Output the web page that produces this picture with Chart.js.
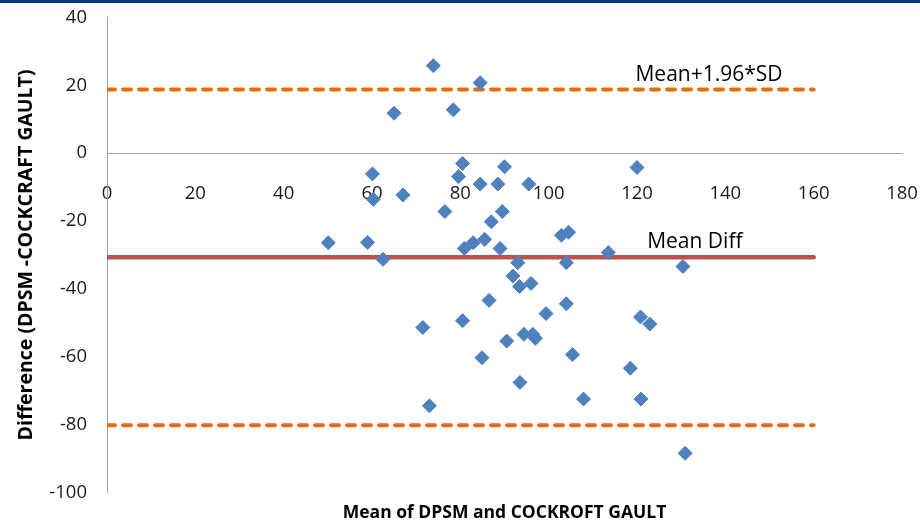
<!DOCTYPE html>
<html><head><meta charset="utf-8">
<script src="https://cdn.jsdelivr.net/npm/chart.js@4.4.0/dist/chart.umd.min.js"></script>
<style>
html,body{margin:0;padding:0;background:#fff;}
#wrap{position:relative;width:920px;height:524px;overflow:hidden;}
#bar{position:absolute;left:0;top:0;width:920px;height:3px;background:#0d3a7d;}
canvas{display:block;}
</style></head><body>
<div id="wrap"><canvas id="c" width="920" height="524"></canvas><div id="bar"></div></div>
<script>
// Bland-Altman data: mean of the two methods (x) and their difference (y)
const meanValues = [73.9, 84.5, 65.0, 78.4, 80.5, 79.6, 90.0, 120.0, 60.1, 60.3,
  67.0, 84.5, 88.5, 95.5, 76.5, 89.5, 87.0, 50.1, 59.0, 62.5,
  80.9, 82.9, 85.5, 89.0, 102.9, 104.5, 113.5, 93.0, 104.0, 130.4,
  91.9, 93.4, 96.0, 86.5, 104.0, 99.4, 71.5, 80.5, 120.8, 122.9,
  90.5, 94.4, 96.4, 97.0, 84.9, 105.4, 118.5, 93.5, 73.0, 107.9,
  120.9, 130.9];
const diffValues = [25.8, 20.8, 11.8, 12.8, -3.0, -6.9, -4.0, -4.2, -6.1, -13.6,
  -12.3, -9.1, -9.1, -9.1, -17.2, -17.2, -20.2, -26.4, -26.3, -31.3,
  -28.1, -26.4, -25.4, -28.1, -24.2, -23.3, -29.3, -32.3, -32.3, -33.4,
  -36.2, -39.3, -38.4, -43.4, -44.4, -47.3, -51.4, -49.4, -48.3, -50.4,
  -55.4, -53.4, -53.4, -54.6, -60.3, -59.4, -63.4, -67.6, -74.5, -72.5,
  -72.5, -88.5];
const meanDiff = -30.7;
const upperLimit = 18.8;
const lowerLimit = -80.2;
const lineSpan = [0, 160];
const xRange = [0, 180];
const yRange = [-100, 40];
const tickStep = 20;
const upperLabel = 'Mean+1.96*SD';
const meanLabel = 'Mean Diff';
const xTitle = 'Mean of DPSM and COCKROFT GAULT';
const yTitle = 'Difference (DPSM -COCKCRAFT GAULT)';

const FONT = '"Open Sans", "Liberation Sans", sans-serif';
const points = meanValues.map((v, i) => ({x: v, y: diffValues[i]}));
const hLine = v => lineSpan.map(x => ({x, y: v}));

const labelPlugin = {
  id: 'loaLabels',
  afterDatasetsDraw(chart) {
    const {ctx, scales: {x, y}} = chart;
    ctx.save();
    ctx.font = '21px ' + FONT;
    ctx.fillStyle = '#000';
    ctx.textAlign = 'center';
    ctx.textBaseline = 'alphabetic';
    ctx.fillText(upperLabel, x.getPixelForValue(136.3), y.getPixelForValue(upperLimit) - 8);
    ctx.fillText(meanLabel, x.getPixelForValue(133.1), y.getPixelForValue(meanDiff) - 9);
    ctx.restore();
  }
};

const axisGray = '#a0a0a0';
const tickFont = {family: FONT, size: 18.5};

new Chart(document.getElementById('c'), {
  type: 'scatter',
  data: {
    datasets: [
      {
        label: 'Difference',
        data: points,
        xAxisID: 'x', yAxisID: 'y',
        pointStyle: 'rectRot',
        pointRadius: 7,
        pointBackgroundColor: '#4f81bd',
        pointBorderColor: '#4f81bd',
        pointBorderWidth: 1,
        order: 0
      },
      {
        type: 'line', label: 'Mean Diff', data: hLine(meanDiff),
        xAxisID: 'x', yAxisID: 'y',
        borderColor: '#c0504d', borderWidth: 4.5, borderCapStyle: 'round',
        pointRadius: 0, fill: false, order: 1
      },
      {
        type: 'line', label: 'Upper', data: hLine(upperLimit),
        xAxisID: 'x', yAxisID: 'y',
        borderColor: '#e46c0a', borderWidth: 4, borderDash: [8, 8], borderCapStyle: 'round',
        pointRadius: 0, fill: false, order: 1
      },
      {
        type: 'line', label: 'Lower', data: hLine(lowerLimit),
        xAxisID: 'x', yAxisID: 'y',
        borderColor: '#e46c0a', borderWidth: 4, borderDash: [8, 8], borderCapStyle: 'round',
        pointRadius: 0, fill: false, order: 1
      }
    ]
  },
  options: {
    responsive: false,
    animation: false,
    events: [],
    layout: {padding: {top: 17.6, right: 18, bottom: 0, left: 0}},
    plugins: {legend: {display: false}, tooltip: {enabled: false}},
    scales: {
      x: {
        type: 'linear',
        position: {y: 0},
        min: xRange[0], max: xRange[1],
        ticks: {stepSize: tickStep, font: tickFont, color: '#1a1a1a', padding: 29, maxRotation: 0},
        grid: {display: true, drawOnChartArea: false, drawTicks: false},
        border: {display: true, color: axisGray, width: 1},
        afterFit(s) { s.paddingLeft = 0; s.paddingRight = 0; }
      },
      y: {
        type: 'linear',
        position: 'left',
        min: yRange[0], max: yRange[1],
        ticks: {stepSize: tickStep, font: tickFont, color: '#1a1a1a', padding: 20},
        grid: {display: true, drawOnChartArea: false, drawTicks: false},
        border: {display: true, color: axisGray, width: 1},
        title: {display: true, text: yTitle, color: '#000',
          font: {family: FONT, size: 19.5, weight: 'bold'}, padding: {top: 15, bottom: 0}},
        afterFit(s) { s.width = 107; s.paddingTop = 0; s.paddingBottom = 0; }
      },
      xt: {
        type: 'linear', axis: 'x', position: 'bottom',
        min: xRange[0], max: xRange[1],
        ticks: {display: false},
        grid: {display: false},
        border: {display: false},
        title: {display: true, text: xTitle, color: '#000',
          font: {family: FONT, size: 17.5, weight: 'bold'}, padding: {top: 0, bottom: 0}},
        afterFit(s) { s.height = 31.7; s.paddingLeft = 0; s.paddingRight = 0; }
      }
    }
  },
  plugins: [labelPlugin]
});
</script>
</body></html>
